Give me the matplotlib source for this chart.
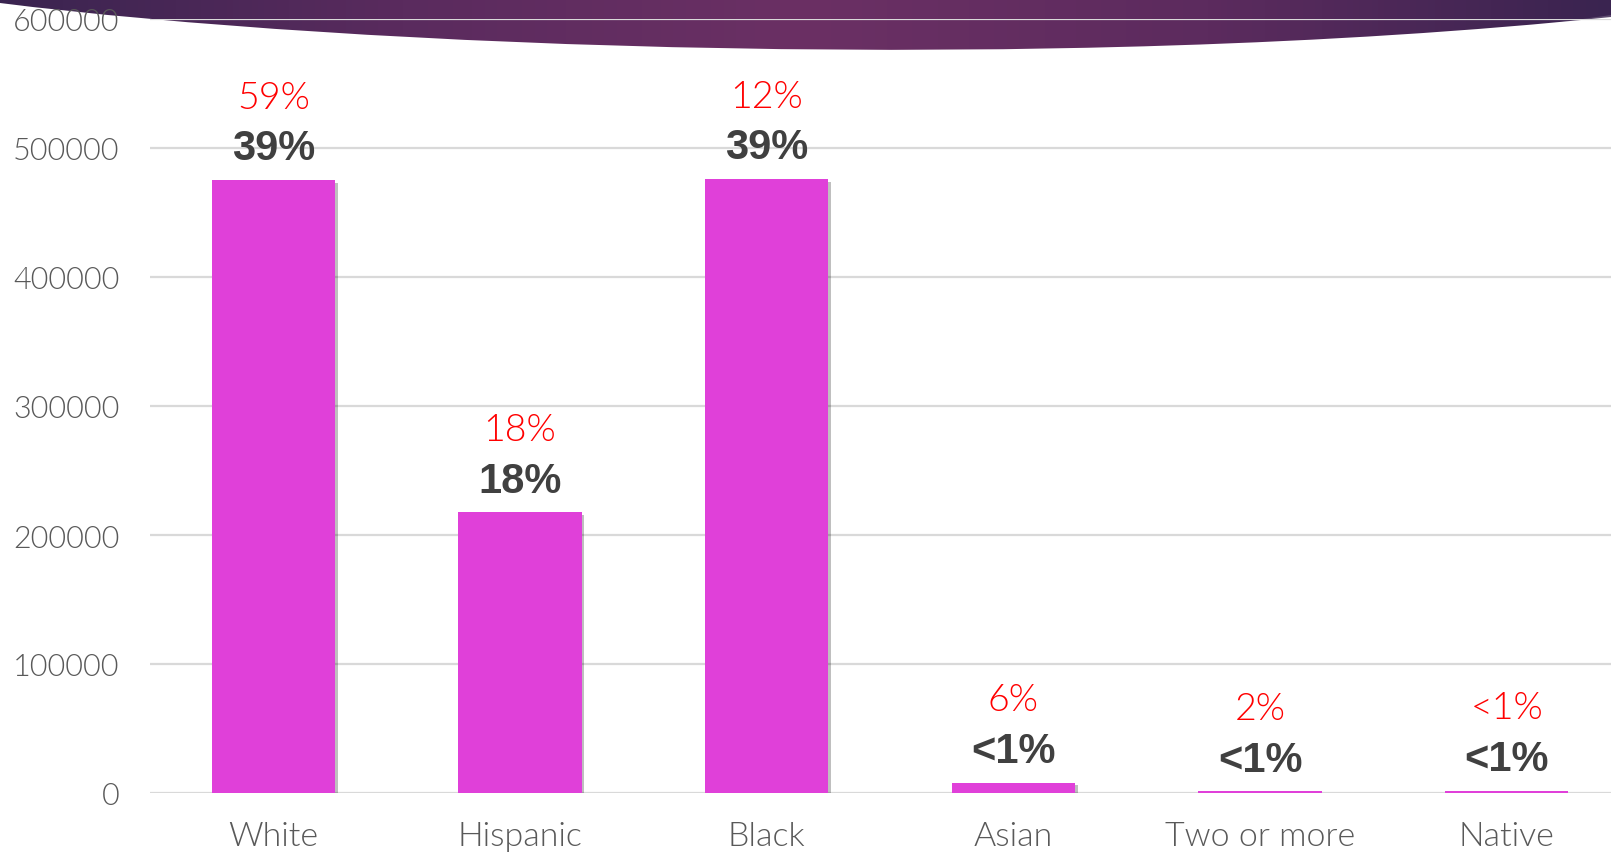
import numpy as np
import matplotlib
matplotlib.use("Agg")
import matplotlib.pyplot as plt
from matplotlib.path import Path
from matplotlib.patches import PathPatch
from matplotlib.colors import LinearSegmentedColormap
import matplotlib.patheffects as pe

# data
categories = ["White", "Hispanic", "Black", "Asian", "Two or more", "Native"]
counts = [475000, 217500, 476000, 8000, 1200, 1800]
share_labels = ["39%", "18%", "39%", "<1%", "<1%", "<1%"]
compare_labels = ["59%", "18%", "12%", "6%", "2%", "<1%"]
yticks = [0, 100000, 200000, 300000, 400000, 500000, 600000]

BAR = "#e040d9"
GRID = "#d9d9d9"
TICK = "#595959"
LIGHT = ["Lato", "DejaVu Sans"]
W = 300

fig = plt.figure(figsize=(16.11, 8.53), dpi=100)

# decorative purple swoosh across the top (behind the chart)
bg = fig.add_axes([0, 0, 1, 1], zorder=0)
bg.set_xlim(0, 1611)
bg.set_ylim(853, 0)
bg.axis("off")
verts = [(0, -2), (0, 4), (350, 48), (1050, 76), (1611, 18), (1611, -2), (0, -2)]
codes = [Path.MOVETO, Path.LINETO, Path.CURVE4, Path.CURVE4, Path.CURVE4,
         Path.LINETO, Path.CLOSEPOLY]
swoosh = PathPatch(Path(verts, codes), facecolor="none", edgecolor="none")
bg.add_patch(swoosh)
cmap = LinearSegmentedColormap.from_list(
    "swoosh", ["#3a2450", "#5a2b5e", "#6b3064", "#5c2b5e", "#3a2450"])
grad = np.linspace(0, 1, 512)[None, :]
im = bg.imshow(grad, extent=[0, 1611, 80, -2], cmap=cmap, aspect="auto")
im.set_clip_path(swoosh)
# faint highlight at the right corner
hl = [(1400, 46), (1611, 16), (1611, 36), (1400, 46)]
bg.add_patch(PathPatch(Path(hl), facecolor="white", edgecolor="none", alpha=0.18))

ax = fig.add_axes([150 / 1611, 1 - 794 / 853, 1480 / 1611, (794 - 20) / 853], zorder=1)
ax.patch.set_alpha(0)

x = np.arange(len(categories))
bars = ax.bar(x, counts, width=0.5, color=BAR, zorder=3)
for b in bars:
    b.set_path_effects([pe.SimplePatchShadow(offset=(2, -2), shadow_rgbFace="#000000", alpha=0.25),
                        pe.Normal()])

for xi, v, s, c in zip(x, counts, share_labels, compare_labels):
    ax.annotate(s, (xi, v), xytext=(0, 15), textcoords="offset points",
                ha="center", va="baseline", fontsize=30, fontweight="bold",
                color="#404040", family=["Liberation Sans", "DejaVu Sans"], zorder=4)
    ax.annotate(c, (xi, v), xytext=(0, 52), textcoords="offset points",
                ha="center", va="baseline", fontsize=27, fontweight=W,
                color="#ff0000", family=LIGHT, zorder=4)

ax.set_xlim(-0.5, len(categories) - 0.5)
ax.set_ylim(0, 600000)
ax.set_yticks(yticks)
ax.set_yticklabels([str(t) for t in yticks], fontsize=22, color=TICK,
                   family=LIGHT, fontweight=W)
ax.set_xticks(x)
ax.set_xticklabels(categories, fontsize=24.5, color=TICK, family=LIGHT,
                   fontweight=W)
ax.tick_params(axis="both", length=0)
ax.tick_params(axis="y", pad=22)
ax.tick_params(axis="x", pad=20)
ax.grid(axis="y", color=GRID, linewidth=1.6, zorder=0)
for sp in ax.spines.values():
    sp.set_visible(False)

fig.savefig("out.png", dpi=100)
